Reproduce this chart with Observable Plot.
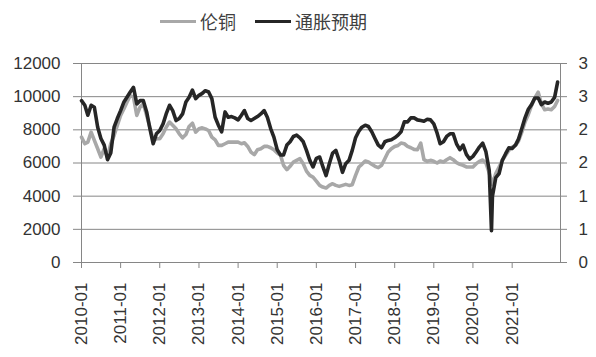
<!DOCTYPE html>
<html><head><meta charset="utf-8">
<script src="https://cdn.jsdelivr.net/npm/d3@7"></script>
<script src="https://cdn.jsdelivr.net/npm/@observablehq/plot@0.6"></script>
<style>
body{margin:0;background:#fff;}
#wrap{width:596px;height:357px;position:relative;overflow:hidden;}
#legend{position:relative;height:40px;font-family:"Noto Sans CJK SC",sans-serif;font-size:18px;color:#404040;}
.item{position:absolute;top:9px;display:flex;align-items:center;height:24px;white-space:nowrap;}
.sw{display:inline-block;width:36px;height:3px;margin-right:4px;}
</style></head>
<body><div id="wrap"><div id="legend"></div><div id="chart"></div></div>
<script>
// Month index positions from the x axis start (one value per month)
const startMonth = "2010-01-01";
const endMonth = "2022-03-28";
const seriesNames = ["伦铜", "通胀预期"];
// LME copper (left axis)
const copper = [
7560,7160,7260,7860,7360,6860,6360,6860,6360,7160,7660,8260,
8870,9270,9670,10070,9970,8870,9370,9570,8870,8160,7360,7460,
7460,7760,8160,8470,8270,8060,7760,7520,7720,8200,8400,7860,
8060,8120,8060,7960,7560,7400,7060,7060,7160,7260,7260,7260,
7260,7160,7220,7000,6660,6500,6800,6860,7000,7000,6920,6800,
6600,6460,5860,5600,5800,6060,6160,6260,5960,5510,5250,5150,
4910,4650,4550,4490,4650,4750,4650,4590,4650,4710,4650,4690,
5250,5760,5920,6120,6060,5920,5800,5720,5860,6260,6660,6860,
7000,7060,7200,7160,7000,6920,6820,6800,7200,6200,6100,6160,
6100,6000,6120,6060,6200,6320,6200,6020,5920,5860,5760,5760,
5760,5960,6100,6180,6000,5400,4700,5360,5760,6160,6460,6760,
6960,7060,7320,7860,8470,8930,9470,9930,10270,9570,9210,9250,
9210,9410,9770
];
// Inflation expectations (right axis)
const breakeven = [
2.44,2.37,2.22,2.37,2.34,2.04,1.87,1.77,1.55,1.65,2.04,2.17,
2.29,2.42,2.49,2.57,2.64,2.39,2.44,2.44,2.27,2.02,1.79,1.94,
1.99,2.09,2.24,2.37,2.29,2.14,2.17,2.24,2.42,2.49,2.60,2.47,
2.52,2.55,2.59,2.57,2.47,2.19,2.07,1.97,2.27,2.19,2.20,2.18,
2.15,2.22,2.29,2.17,2.14,2.17,2.20,2.24,2.29,2.19,2.02,1.89,
1.70,1.62,1.62,1.77,1.82,1.90,1.92,1.88,1.82,1.69,1.54,1.44,
1.57,1.59,1.45,1.31,1.49,1.65,1.69,1.54,1.36,1.49,1.54,1.69,
1.88,1.98,2.04,2.07,2.05,1.97,1.87,1.77,1.73,1.82,1.84,1.85,
1.88,1.92,1.97,2.12,2.12,2.18,2.18,2.15,2.14,2.13,2.16,2.15,
2.09,1.95,1.79,1.82,1.90,1.94,1.94,1.79,1.70,1.77,1.63,1.56,
1.60,1.67,1.74,1.80,1.67,1.39,1.00,1.28,1.34,1.54,1.64,1.73,
1.72,1.77,1.86,2.02,2.18,2.31,2.38,2.48,2.48,2.38,2.42,2.40,
2.42,2.49,2.72
];
const dipDate = "2020-06-22";
const dipValue = 0.48;
const leftTicks = [0,2000,4000,6000,8000,10000,12000];
const rightTicks = [0,0.5,1,1.5,2,2.5,3];
const xTickLabels = ["2010-01","2011-01","2012-01","2013-01","2014-01","2015-01","2016-01","2017-01","2018-01","2019-01","2020-01","2021-01"];
const colors = ["#a8a8a8", "#262626"];

const ratio = 12000 / 3;
const t0 = new Date(startMonth);
const copperData = copper.map((v, i) => ({date: d3.utcMonth.offset(t0, i), v}));
const beData = breakeven.map((v, i) => ({date: d3.utcMonth.offset(t0, i), v}))
  .concat([{date: new Date(dipDate), v: dipValue}])
  .sort((a, b) => a.date - b.date);
const xTicks = xTickLabels.map(s => new Date(s + "-01"));

const legend = document.getElementById("legend");
const lefts = [160, 255];
seriesNames.forEach((n, i) => {
  const it = document.createElement("div");
  it.className = "item";
  it.style.left = lefts[i] + "px";
  it.innerHTML = `<span class="sw" style="background:${colors[i]}"></span><span>${n}</span>`;
  legend.appendChild(it);
});

const chart = Plot.plot({
  width: 596, height: 317,
  marginTop: 23, marginBottom: 95, marginLeft: 81, marginRight: 36,
  style: {fontFamily: "'Liberation Sans', Arial, sans-serif", fontSize: "17px", color: "#333", background: "white"},
  x: {type: "utc", domain: [new Date(startMonth), new Date(endMonth)]},
  y: {domain: [0, 12000]},
  marks: [
    Plot.ruleY(leftTicks, {stroke: "#868686", strokeWidth: 1}),
    Plot.frame({stroke: "#868686"}),
    Plot.lineY(copperData, {x: "date", y: "v", stroke: colors[0], strokeWidth: 3.6}),
    Plot.lineY(beData, {x: "date", y: d => d.v * ratio, stroke: colors[1], strokeWidth: 3.6}),
    Plot.axisY(leftTicks, {anchor: "left", tickSize: 8, tickPadding: 13, stroke: "#868686", fill: "#333", tickFormat: d => String(d), label: null}),
    Plot.axisY(rightTicks.map(d => d * ratio), {anchor: "right", tickSize: 6, tickPadding: 12, stroke: "#868686", fill: "#333", tickFormat: d => String(Math.round(d / ratio)), label: null}),
    Plot.axisX(xTicks, {anchor: "bottom", tickSize: 6, tickPadding: 14, tickRotate: -90, stroke: "#868686", fill: "#333", tickFormat: "%Y-%m", label: null})
  ]
});
document.getElementById("chart").appendChild(chart);
</script>
</body></html>
